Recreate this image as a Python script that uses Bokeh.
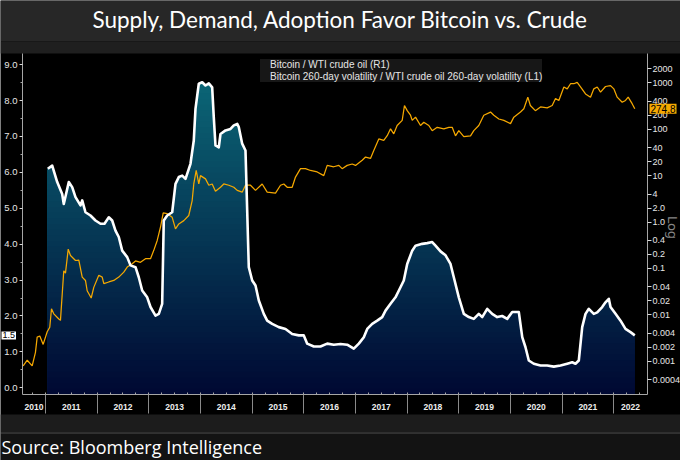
import numpy as np
from bokeh.plotting import figure
from bokeh.models import (Range1d, LogScale, LogAxis, LinearAxis, FixedTicker, Label,
                          Legend, LegendItem, Span, BoxAnnotation)
from bokeh.embed import file_html
from bokeh.resources import INLINE

TITLE = "Supply, Demand, Adoption Favor Bitcoin vs. Crude"
SOURCE = "Source: Bloomberg Intelligence"
LEGEND_RATIO = "Bitcoin / WTI crude oil (R1)"
LEGEND_VOL = "Bitcoin 260-day volatility / WTI crude oil 260-day volatility (L1)"

# Bitcoin 260-day volatility / WTI crude oil 260-day volatility (left axis)
vol_years = [2011.045, 2011.130, 2011.227, 2011.323, 2011.354, 2011.451, 2011.517, 2011.581, 2011.678,
             2011.711, 2011.774, 2011.871, 2011.968, 2012.065, 2012.142, 2012.226, 2012.291, 2012.355,
             2012.419, 2012.485, 2012.582, 2012.646, 2012.743, 2012.806, 2012.872, 2012.969, 2013.033,
             2013.130, 2013.194, 2013.259, 2013.290, 2013.356, 2013.453, 2013.517, 2013.581, 2013.647,
             2013.711, 2013.807, 2013.871, 2013.904, 2013.968, 2014.034, 2014.098, 2014.162, 2014.227,
             2014.258, 2014.291, 2014.355, 2014.388, 2014.485, 2014.582, 2014.646, 2014.712, 2014.743,
             2014.808, 2014.872, 2014.936, 2015.002, 2015.066, 2015.130, 2015.226, 2015.292, 2015.389,
             2015.517, 2015.647, 2015.776, 2015.904, 2016.001, 2016.067, 2016.195, 2016.324, 2016.454,
             2016.582, 2016.712, 2016.841, 2016.969, 2017.066, 2017.163, 2017.229, 2017.325, 2017.422,
             2017.519, 2017.583, 2017.680, 2017.776, 2017.873, 2017.937, 2018.003, 2018.100, 2018.164,
             2018.293, 2018.390, 2018.487, 2018.551, 2018.648, 2018.745, 2018.841, 2018.905, 2019.002,
             2019.099, 2019.196, 2019.292, 2019.389, 2019.455, 2019.552, 2019.648, 2019.745, 2019.842,
             2019.939, 2020.036, 2020.164, 2020.230, 2020.293, 2020.357, 2020.454, 2020.584, 2020.713,
             2020.841, 2020.971, 2021.101, 2021.197, 2021.261, 2021.325, 2021.391, 2021.455, 2021.519,
             2021.616, 2021.682, 2021.778, 2021.842, 2021.906, 2021.939, 2022.036, 2022.133, 2022.229,
             2022.326, 2022.409]
vol_values = [6.10, 6.19, 5.73, 5.40, 5.12, 5.73, 5.59, 5.31, 5.08, 5.22, 4.89, 4.80, 4.66, 4.57, 4.57,
              4.75, 4.66, 4.38, 4.20, 3.82, 3.64, 3.41, 3.36, 3.08, 2.71, 2.52, 2.25, 2.01, 2.06, 2.34,
              4.66, 4.80, 4.89, 5.68, 5.87, 5.91, 5.82, 6.24, 6.89, 7.77, 8.47, 8.51, 8.42, 8.48, 8.37,
              7.54, 6.75, 6.70, 7.07, 7.17, 7.21, 7.31, 7.35, 7.26, 6.80, 6.61, 3.36, 2.99, 2.85, 2.43,
              2.06, 1.87, 1.78, 1.69, 1.64, 1.50, 1.46, 1.46, 1.23, 1.15, 1.15, 1.23, 1.20, 1.22, 1.20,
              1.09, 1.23, 1.41, 1.64, 1.78, 1.87, 1.97, 2.15, 2.34, 2.52, 2.80, 2.99, 3.45, 3.82, 3.96,
              4.01, 4.03, 4.06, 3.96, 3.80, 3.69, 3.45, 3.08, 2.52, 2.06, 1.97, 1.92, 2.06, 1.97, 2.20,
              2.06, 1.97, 2.00, 1.92, 2.11, 2.11, 1.41, 1.13, 0.76, 0.67, 0.62, 0.62, 0.59, 0.62, 0.67,
              0.71, 0.67, 0.76, 1.69, 2.06, 2.20, 2.06, 2.10, 2.25, 2.38, 2.48, 2.25, 2.06, 1.87, 1.64,
              1.55, 1.46]

# Bitcoin / WTI crude oil price ratio (right log axis)
ratio_years = [2010.568, 2010.646, 2010.742, 2010.806, 2010.839, 2010.890, 2010.955, 2011.033, 2011.083,
               2011.116, 2011.161, 2011.258, 2011.290, 2011.354, 2011.387, 2011.440, 2011.484, 2011.581,
               2011.645, 2011.711, 2011.774, 2011.807, 2011.885, 2011.935, 2012.032, 2012.098, 2012.129,
               2012.226, 2012.322, 2012.419, 2012.516, 2012.582, 2012.679, 2012.743, 2012.839, 2012.936,
               2013.033, 2013.097, 2013.163, 2013.227, 2013.279, 2013.356, 2013.453, 2013.517, 2013.581,
               2013.678, 2013.774, 2013.840, 2013.871, 2013.918, 2013.968, 2014.001, 2014.098, 2014.162,
               2014.227, 2014.291, 2014.388, 2014.452, 2014.549, 2014.646, 2014.712, 2014.808, 2014.872,
               2014.969, 2015.066, 2015.195, 2015.292, 2015.453, 2015.550, 2015.614, 2015.680, 2015.776,
               2015.840, 2015.937, 2016.034, 2016.131, 2016.260, 2016.388, 2016.454, 2016.582, 2016.679,
               2016.743, 2016.841, 2016.938, 2017.002, 2017.132, 2017.196, 2017.292, 2017.356, 2017.453,
               2017.549, 2017.616, 2017.680, 2017.743, 2017.808, 2017.906, 2017.950, 2018.003, 2018.067,
               2018.100, 2018.164, 2018.261, 2018.324, 2018.421, 2018.487, 2018.584, 2018.712, 2018.809,
               2018.874, 2018.938, 2019.002, 2019.099, 2019.229, 2019.292, 2019.389, 2019.486, 2019.616,
               2019.680, 2019.777, 2019.874, 2020.003, 2020.067, 2020.196, 2020.261, 2020.338, 2020.387,
               2020.484, 2020.584, 2020.713, 2020.810, 2020.874, 2020.939, 2021.036, 2021.101, 2021.165,
               2021.229, 2021.294, 2021.358, 2021.455, 2021.552, 2021.616, 2021.682, 2021.746, 2021.842,
               2021.939, 2022.003, 2022.068, 2022.165, 2022.229, 2022.281, 2022.358, 2022.409]
ratio_values = [0.00079, 0.00105, 0.00079, 0.00155, 0.0033, 0.0035, 0.0023, 0.0043, 0.0054, 0.0135,
                0.0105, 0.0081, 0.0076, 0.089, 0.079, 0.26, 0.19, 0.148, 0.151, 0.065, 0.055, 0.033,
                0.023, 0.039, 0.071, 0.065, 0.047, 0.051, 0.055, 0.065, 0.083, 0.107, 0.126, 0.145,
                0.135, 0.162, 0.162, 0.245, 0.40, 0.78, 1.58, 1.51, 1.26, 0.71, 0.91, 1.07, 1.38, 2.9,
                6.6, 12.9, 6.6, 10.0, 8.5, 6.2, 6.6, 4.6, 5.6, 6.6, 6.2, 5.6, 4.8, 4.4, 6.2, 6.2, 4.8,
                6.6, 4.4, 4.2, 6.2, 6.6, 5.6, 5.6, 9.3, 14.1, 14.1, 12.9, 12.0, 10.0, 16.6, 15.5, 16.6,
                14.1, 16.6, 17.8, 16.6, 21.4, 25.1, 23.4, 34.7, 61.7, 57.5, 72.4, 102, 79.4, 120, 155,
                324, 251, 200, 155, 182, 120, 141, 120, 93, 110, 102, 110, 110, 72, 93, 69, 72, 93, 120,
                200, 234, 200, 166, 155, 132, 182, 234, 275, 490, 324, 251, 302, 288, 324, 457, 417, 813,
                741, 955, 955, 1023, 813, 575, 490, 741, 813, 631, 832, 871, 741, 490, 380, 417, 490, 355,
                274.8]

left_ticks = [0, 1, 2, 3, 4, 5, 6, 7, 8, 9]
left_tick_labels = ["0.0", "1.0", "2.0", "3.0", "4.0", "5.0", "6.0", "7.0", "8.0", "9.0"]
right_ticks = [0.0004, 0.001, 0.002, 0.004, 0.01, 0.02, 0.04, 0.1, 0.2, 0.4, 1, 2, 4, 10, 20, 40,
               100, 200, 400, 1000, 2000]
right_tick_labels = ["0.0004", "0.001", "0.002", "0.004", "0.01", "0.02", "0.04", "0.1", "0.2", "0.4",
                     "1.0", "2.0", "4", "10", "20", "40", "100", "200", "400", "1000", "2000"]
year_starts = [2010, 2011, 2012, 2013, 2014, 2015, 2016, 2017, 2018, 2019, 2020, 2021, 2022]
year_labels = ["2010", "2011", "2012", "2013", "2014", "2015", "2016", "2017", "2018", "2019",
               "2020", "2021", "2022"]

# plotted window (where the axes sit) ...
X0, X1 = 2010.555, 2022.655          # left / right axis positions
Y0, Y1 = -0.187, 9.314               # bottom axis / top of plot (left scale)
LOG0, LOG1 = 1.914e-4, 4276.0        # same window on the log scale
# ... and the full 680 x 460 canvas around it
XR = (2010.129, 2023.294)
YR = (-2.0251, 10.7883)
LOGR = (7.245e-6, 59390.0)

W, H = 680, 460
ORANGE = "#f5a800"
TICK_FONT = "Liberation Sans"
AXIS_GRAY = "#a6a6a6"

p = figure(width=W, height=H, x_range=Range1d(*XR), y_range=Range1d(*YR), title=None,
           toolbar_location=None, output_backend="svg", x_axis_type=None, y_axis_type=None,
           min_border=0, min_border_left=0, min_border_right=0, min_border_top=0,
           min_border_bottom=0, background_fill_color="black", border_fill_color="black",
           outline_line_color=None)
p.extra_y_ranges = {"log": Range1d(*LOGR)}
p.extra_y_scales = {"log": LogScale()}

# header / footer bands (screen units from the bottom of the canvas)
for bottom, top, color in [(419, 460, "#272727"), (407, 419, "#1f1f1f"),
                           (28, 46, "#1c1c1c"), (0, 28, "#131313")]:
    p.add_layout(BoxAnnotation(bottom=bottom, top=top, bottom_units="screen", top_units="screen",
                               fill_color=color, fill_alpha=1.0, line_color=None, level="underlay"))
p.add_layout(Span(location=27.5, location_units="screen", dimension="width",
                  line_color="#8c8c8c", line_dash="1 1", line_width=1))
p.add_layout(Label(x=W / 2, y=441, x_units="screen", y_units="screen", text=TITLE,
                   text_align="center", text_baseline="alphabetic", text_color="white",
                   text_font="Lato", text_font_size="22.5px"))
p.add_layout(Label(x=1, y=14, x_units="screen", y_units="screen", text=SOURCE,
                   text_align="left", text_baseline="alphabetic", text_color="white",
                   text_font="Open Sans", text_font_size="18px"))

# gradient-filled volatility area (horizontal colour bands)
vx = np.array(vol_years)
vy = np.array(vol_values)
levels = np.linspace(Y0, Y1, 61)
c_bot = np.array([0, 8, 50])
c_top = np.array([12, 110, 124])
base = np.full_like(vx, Y0)
for k in range(len(levels) - 1, 0, -1):
    if levels[k - 1] > vy.max():
        continue
    frac = ((levels[k - 1] + levels[k]) / 2 - Y0) / (Y1 - Y0)
    c = (c_bot + (c_top - c_bot) * frac).round().astype(int)
    col = "#%02x%02x%02x" % tuple(c)
    p.varea(x=vx, y1=base, y2=np.minimum(vy, levels[k]), fill_color=col, fill_alpha=1.0)

p.line(ratio_years, ratio_values, y_range_name="log", line_color=ORANGE, line_width=1.25)
p.line(vx, vy, line_color="white", line_width=2.6, line_join="round")

# x axis: labels at mid-year (major), year separators as long minor ticks
mid_years = [(max(ys, X0) + min(ys + 1, X1)) / 2 for ys in year_starts]
xaxis = LinearAxis(fixed_location=Y0, bounds=(X0, X1),
                   ticker=FixedTicker(ticks=mid_years, minor_ticks=year_starts[1:]),
                   major_label_overrides=dict(zip(mid_years, year_labels)),
                   axis_line_color=AXIS_GRAY, major_tick_out=0, major_tick_in=0,
                   minor_tick_line_color="#8a8a8a", minor_tick_in=0, minor_tick_out=19,
                   major_label_text_color="#eeeeee", major_label_text_font=TICK_FONT,
                   major_label_text_font_size="8.5px", major_label_text_font_style="bold",
                   major_label_standoff=-10)
p.add_layout(xaxis, "below")
# quarterly small ticks inside the plot
qaxis = LinearAxis(fixed_location=Y0, bounds=(X0, X1),
                   ticker=FixedTicker(ticks=[], minor_ticks=list(np.arange(2010.75, 2022.6, 0.25))),
                   axis_line_color=None, major_tick_line_color=None, minor_tick_line_color=AXIS_GRAY,
                   minor_tick_in=2, minor_tick_out=0, major_label_text_font_size="0px")
p.add_layout(qaxis, "below")

yaxis = LinearAxis(fixed_location=X0, bounds=(Y0, Y1),
                   ticker=FixedTicker(ticks=left_ticks, minor_ticks=list(np.arange(0.5, 9.0, 1.0))),
                   major_label_overrides=dict(zip(left_ticks, left_tick_labels)),
                   axis_line_color=AXIS_GRAY, major_tick_line_color="#d9d9d9",
                   major_tick_out=3, major_tick_in=0, minor_tick_out=2, minor_tick_in=0,
                   minor_tick_line_color=AXIS_GRAY, major_label_text_color="#e6e6e6",
                   major_label_text_font=TICK_FONT, major_label_text_font_size="9.5px",
                   major_label_standoff=2)
p.add_layout(yaxis, "left")

raxis = LogAxis(y_range_name="log", fixed_location=X1, bounds=(LOG0, LOG1),
                ticker=FixedTicker(ticks=right_ticks),
                major_label_overrides=dict(zip(right_ticks, right_tick_labels)),
                axis_line_color=AXIS_GRAY, major_tick_line_color="#d9d9d9",
                major_tick_out=4, major_tick_in=0, minor_tick_out=0, minor_tick_in=0,
                major_label_text_color="#e6e6e6", major_label_text_font=TICK_FONT,
                major_label_text_font_size="9px", major_label_standoff=1)
p.add_layout(raxis, "right")

# "Log" note beside the right axis
p.add_layout(Label(x=672, y=233, x_units="screen", y_units="screen", text="Log", angle=-np.pi / 2,
                   text_align="center", text_baseline="middle", text_color="#858585",
                   text_font="DejaVu Sans", text_font_size="13px"))

# last-value markers
p.add_layout(Label(x=1, x_units="screen", y=vol_values[-1], y_units="data",
                   text="%.1f" % vol_values[-1], text_align="left", text_baseline="middle",
                   text_color="black", background_fill_color="white", padding=1,
                   text_font=TICK_FONT, text_font_size="9px"))
p.add_layout(Label(x=649, x_units="screen", y=ratio_values[-1], y_units="data", y_range_name="log",
                   text="%.1f" % ratio_values[-1], text_align="left", text_baseline="middle",
                   text_color="black", background_fill_color=ORANGE, padding=1,
                   text_font=TICK_FONT, text_font_size="10px"))

# legend with square swatches
r1 = p.scatter(x=[], y=[], marker="square", size=6, fill_color=ORANGE, line_color=None)
r2 = p.scatter(x=[], y=[], marker="square", size=6, fill_color="white", line_color=None)
legend = Legend(items=[LegendItem(label=LEGEND_RATIO, renderers=[r1]),
                       LegendItem(label=LEGEND_VOL, renderers=[r2])],
                location=(260, 378), background_fill_color="#171717", background_fill_alpha=1.0,
                border_line_color=None, label_text_color="#e6e6e6", label_text_font=TICK_FONT,
                label_text_font_size="10px", label_height=10, glyph_height=10, glyph_width=8,
                spacing=1, padding=2, margin=0, label_standoff=2)
p.add_layout(legend)

open("out.html", "w").write(file_html(p, INLINE))
